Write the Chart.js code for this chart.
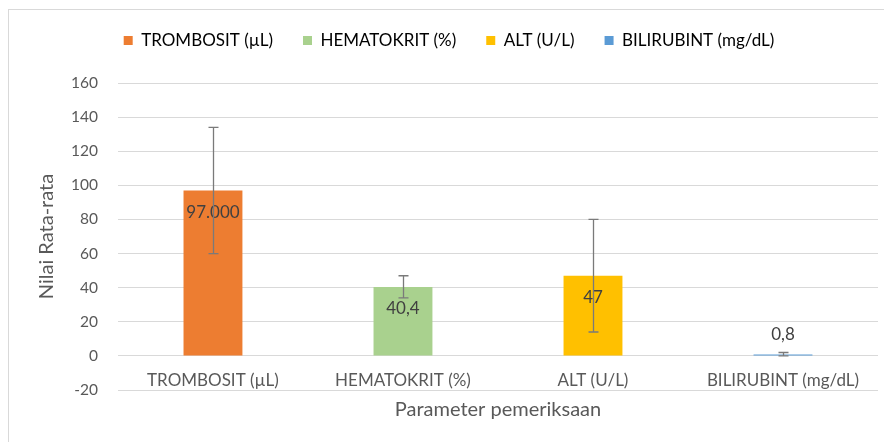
<!DOCTYPE html>
<html>
<head>
<meta charset="utf-8">
<script src="https://cdn.jsdelivr.net/npm/chart.js@4/dist/chart.umd.min.js"></script>
<style>
    body { margin: 0; background: #fff; }
    #wrap { position: relative; width: 884px; height: 442px; }
    #frame { position: absolute; left: 8px; top: 9px; right: 0; bottom: 0; border-left: 1px solid #d9d9d9; border-top: 1px solid #d9d9d9; }
    #myChart { position: absolute; left: 0; top: 0; }
</style>
</head>
<body>
<div id="wrap">
    <div id="frame"></div>
    <canvas id="myChart" width="884" height="442"></canvas>
</div>
<script>
const categories = ['TROMBOSIT (µL)', 'HEMATOKRIT (%)', 'ALT (U/L)', 'BILIRUBINT (mg/dL)'];
const values = [97, 40.4, 47, 0.8];
const valueLabels = ['97.000', '40,4', '47', '0,8'];
const errLow = [60, 34, 14, 0];
const errHigh = [134, 47, 80, 2];
const colors = ['#ED7D31', '#A9D18E', '#FFC000', '#5B9BD5'];
const yMin = -20;
const yMax = 160;
const yStep = 20;

const FONT = 'Lato';
const TEXT = '#595959';

// push the plot down a bit under the legend
const legendMargin = {
    id: 'legendMargin',
    beforeInit(chart) {
        const fit = chart.legend.fit;
        chart.legend.fit = function () {
            fit.bind(chart.legend)();
            this.height += 24;
        };
    }
};

// error bars, value labels and category labels (Excel puts them next to the 0 line)
const extras = {
    id: 'extras',
    afterDatasetsDraw(chart) {
        const ctx = chart.ctx;
        const y = chart.scales.y;
        const x = chart.scales.x;
        const meta = chart.getDatasetMeta(0);
        const zero = y.getPixelForValue(0);
        ctx.save();
        ctx.textAlign = 'center';
        ctx.textBaseline = 'middle';

        ctx.font = '17px ' + FONT;
        ctx.fillStyle = TEXT;
        categories.forEach((c, i) => {
            ctx.fillText(c, x.getPixelForValue(i), zero + 25);
        });

        ctx.fillStyle = '#404040';
        meta.data.forEach((bar, i) => {
            const top = y.getPixelForValue(values[i]);
            const ly = (zero - top) > 40 ? top + 22 : top - 20;
            ctx.fillText(valueLabels[i], bar.x, ly);
        });

        ctx.strokeStyle = '#7a7a7a';
        ctx.lineWidth = 1.3;
        meta.data.forEach((bar, i) => {
            const lo = y.getPixelForValue(errLow[i]);
            const hi = y.getPixelForValue(errHigh[i]);
            const bx = Math.round(bar.x) + 0.5;
            ctx.beginPath();
            ctx.moveTo(bx, lo);
            ctx.lineTo(bx, hi);
            ctx.moveTo(bx - 5, lo);
            ctx.lineTo(bx + 5, lo);
            ctx.moveTo(bx - 5, hi);
            ctx.lineTo(bx + 5, hi);
            ctx.stroke();
        });
        ctx.restore();
    }
};

const chart = new Chart(document.getElementById('myChart'), {
    type: 'bar',
    data: {
        labels: categories,
        datasets: [{
            data: values,
            backgroundColor: colors,
            categoryPercentage: 1,
            barPercentage: 0.31
        }]
    },
    options: {
        responsive: false,
        animation: false,
        layout: { padding: { top: 2, right: 6, left: 20, bottom: 20 } },
        plugins: {
            tooltip: { enabled: false },
            legend: {
                display: true,
                position: 'top',
                labels: {
                    boxWidth: 9,
                    boxHeight: 9,
                    padding: 30,
                    color: TEXT,
                    font: { family: FONT, size: 17 },
                    generateLabels: () => categories.map((c, i) => ({
                        text: c,
                        fillStyle: colors[i],
                        strokeStyle: colors[i],
                        lineWidth: 0,
                        index: i
                    }))
                },
                onClick: () => {}
            }
        },
        scales: {
            x: {
                grid: { display: false, drawTicks: false },
                border: { display: false },
                ticks: { display: false },
                title: {
                    display: true,
                    text: 'Parameter pemeriksaan',
                    color: TEXT,
                    font: { family: FONT, size: 20 },
                    padding: { top: 8, bottom: 0 }
                }
            },
            y: {
                min: yMin,
                max: yMax,
                grid: { color: '#d9d9d9', drawTicks: false },
                border: { display: false },
                ticks: {
                    stepSize: yStep,
                    padding: 20,
                    color: TEXT,
                    font: { family: FONT, size: 15.5 }
                },
                title: {
                    display: true,
                    text: 'Nilai Rata-rata',
                    color: TEXT,
                    font: { family: FONT, size: 20, lineHeight: 1 },
                    padding: { top: 17, bottom: -6 }
                }
            }
        }
    },
    plugins: [legendMargin, extras]
});
</script>
</body>
</html>
